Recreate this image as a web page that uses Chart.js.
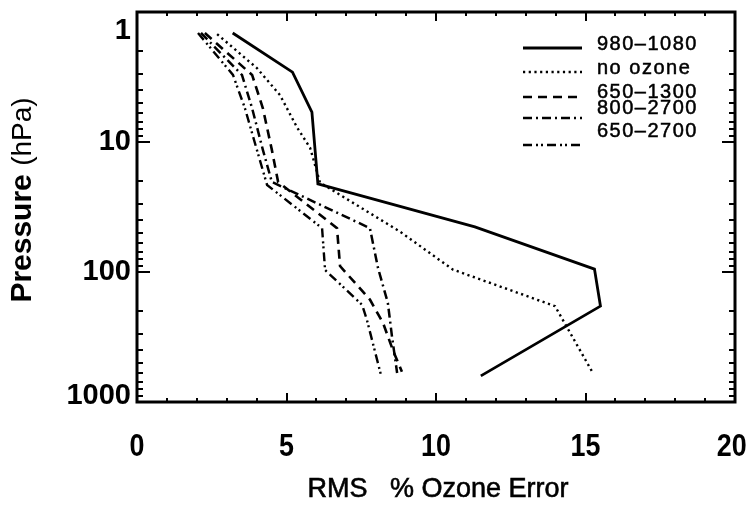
<!DOCTYPE html>
<html>
<head>
<meta charset="utf-8">
<script src="https://cdn.jsdelivr.net/npm/chart.js@4"></script>
<style>
    html, body { margin: 0; padding: 0; background: #fff; }
    canvas { display: block; }
</style>
</head>
<body>
<canvas id="chart" width="750" height="508"></canvas>
<script>
// pressure levels (hPa) and RMS % ozone error
const p980 = [1.45, 2.9, 5.9, 21, 45, 95, 183, 630];
const rms980 = [3.2, 5.2, 5.85, 6.05, 11.3, 15.3, 15.5, 11.5];

const pNoOzone = [1.48, 2.7, 4.35, 7.7, 11.1, 20.5, 49, 96, 183, 600];
const rmsNoOzone = [2.68, 4.01, 4.78, 5.35, 5.79, 6.12, 8.8, 10.57, 13.98, 15.25];

const p650_1300 = [1.45, 3.05, 5.5, 11.5, 20.3, 46, 90, 163, 247, 400, 585];
const rms650_1300 = [2.27, 3.85, 4.21, 4.51, 4.72, 6.69, 6.79, 7.79, 8.23, 8.56, 8.86];

const p800_2700 = [1.45, 3.05, 5.5, 11.5, 20.3, 46, 93, 173, 316, 598];
const rms800_2700 = [2.14, 3.51, 3.85, 4.21, 4.51, 7.79, 8.06, 8.39, 8.53, 8.7];

const p650_2700 = [1.45, 3.05, 5.5, 11.5, 21.4, 46, 96.5, 179, 234, 620];
const rms650_2700 = [2.04, 3.21, 3.61, 4.01, 4.35, 6.19, 6.29, 7.53, 7.69, 8.16];

const seriesLabels = ['980–1080', 'no ozone', '650–1300', '800–2700', '650–2700'];
const xTicks = [0, 5, 10, 15, 20];
const yTicks = [1, 10, 100, 1000];

const FONT = '"Liberation Sans", Arial, sans-serif';

function points(xs, ps) {
    return xs.map((x, i) => ({ x, y: ps[i] }));
}

function line(label, data, dash, width) {
    return {
        label,
        data,
        showLine: true,
        borderColor: '#000',
        backgroundColor: '#000',
        borderWidth: width,
        borderDash: dash,
        borderCapStyle: 'butt',
        pointRadius: 0,
        tension: 0,
    };
}

const frame = {
    id: 'frame',
    afterDraw(chart) {
        const { ctx, chartArea: a, scales } = chart;
        const x = scales.x;
        const y = scales.y;

        ctx.save();
        ctx.strokeStyle = '#000';
        ctx.fillStyle = '#000';

        // minor / major ticks, all pointing inward
        ctx.lineWidth = 2;
        ctx.beginPath();
        for (let v = 0; v <= 20; v++) {
            const px = Math.round(x.getPixelForValue(v));
            const len = v % 5 === 0 ? 9 : 4;
            ctx.moveTo(px, a.bottom);
            ctx.lineTo(px, a.bottom - len);
            ctx.moveTo(px, a.top);
            ctx.lineTo(px, a.top + len);
        }
        for (let d = 1; d <= 1000; d *= 10) {
            for (let m = 1; m <= 9; m++) {
                const v = d * m;
                if (v > 1000) break;
                const py = Math.round(y.getPixelForValue(v));
                const len = m === 1 ? 13 : 6;
                ctx.moveTo(a.left, py);
                ctx.lineTo(a.left + len, py);
                ctx.moveTo(a.right, py);
                ctx.lineTo(a.right - len, py);
            }
        }
        ctx.stroke();

        // box
        ctx.lineWidth = 3;
        ctx.strokeRect(a.left, a.top, a.right - a.left, a.bottom - a.top);

        // x tick labels
        ctx.font = `bold 32px ${FONT}`;
        ctx.textAlign = 'center';
        ctx.textBaseline = 'middle';
        xTicks.forEach((v) => {
            const px = x.getPixelForValue(v);
            ctx.save();
            ctx.translate(px, 447);
            ctx.scale(0.84, 1);
            ctx.fillText(String(v), v === 20 ? -4 : 0, 0);
            ctx.restore();
        });

        // y tick labels (end labels nudged inside like the original)
        ctx.font = `bold 29px ${FONT}`;
        ctx.textAlign = 'right';
        const nudge = { 1: 19, 10: 0, 100: 0, 1000: -6 };
        yTicks.forEach((v) => {
            const py = y.getPixelForValue(v) + nudge[v];
            ctx.fillText(String(v), 131, py);
        });

        // x title
        ctx.font = `27px ${FONT}`;
        ctx.textAlign = 'center';
        ctx.lineWidth = 0.6;
        ctx.fillText('RMS   % Ozone Error', 438, 490);
        ctx.strokeText('RMS   % Ozone Error', 438, 490);

        // y title
        ctx.save();
        ctx.translate(23, 200);
        ctx.rotate(-Math.PI / 2);
        ctx.textAlign = 'left';
        const boldPart = 'Pressure ';
        const thinPart = '(hPa)';
        ctx.font = `bold 30px ${FONT}`;
        const w1 = ctx.measureText(boldPart).width;
        ctx.font = `28px ${FONT}`;
        const w2 = ctx.measureText(thinPart).width;
        const start = -(w1 + w2) / 2;
        ctx.font = `bold 30px ${FONT}`;
        ctx.fillText(boldPart, start, 0);
        ctx.font = `28px ${FONT}`;
        ctx.fillText(thinPart, start + w1, 0);
        ctx.restore();

        // legend
        const lineRows = [48, 72, 97, 118, 145];
        const textRows = [50, 74, 98, 114, 137];
        ctx.font = `20px ${FONT}`;
        ctx.textAlign = 'left';
        ctx.textBaseline = 'alphabetic';
        ctx.letterSpacing = '1.5px';
        ctx.lineWidth = 0.5;
        chart.data.datasets.forEach((ds, i) => {
            ctx.save();
            ctx.lineWidth = ds.borderWidth;
            ctx.setLineDash(ds.borderDash);
            ctx.beginPath();
            ctx.moveTo(523, lineRows[i]);
            ctx.lineTo(582, lineRows[i]);
            ctx.stroke();
            ctx.restore();
            ctx.fillText(ds.label, 597, textRows[i]);
            ctx.strokeText(ds.label, 597, textRows[i]);
        });
        ctx.restore();
    },
};

new Chart(document.getElementById('chart'), {
    type: 'scatter',
    data: {
        datasets: [
            line(seriesLabels[0], points(rms980, p980), [], 2.8),
            line(seriesLabels[1], points(rmsNoOzone, pNoOzone), [2.2, 3.5], 2.4),
            line(seriesLabels[2], points(rms650_1300, p650_1300), [9, 6], 2.6),
            line(seriesLabels[3], points(rms800_2700, p800_2700), [9, 4, 2, 4], 2.5),
            line(seriesLabels[4], points(rms650_2700, p650_2700), [9, 4, 2, 3, 2, 4], 2.4),
        ],
    },
    options: {
        responsive: false,
        animation: false,
        layout: {
            padding: { left: 137, right: 15, top: 12, bottom: 106 },
        },
        plugins: {
            legend: { display: false },
            tooltip: { enabled: false },
        },
        scales: {
            x: {
                type: 'linear',
                display: false,
                min: 0,
                max: 20,
            },
            y: {
                type: 'logarithmic',
                display: false,
                reverse: true,
                min: 1,
                max: 1000,
            },
        },
    },
    plugins: [frame],
});
</script>
</body>
</html>
